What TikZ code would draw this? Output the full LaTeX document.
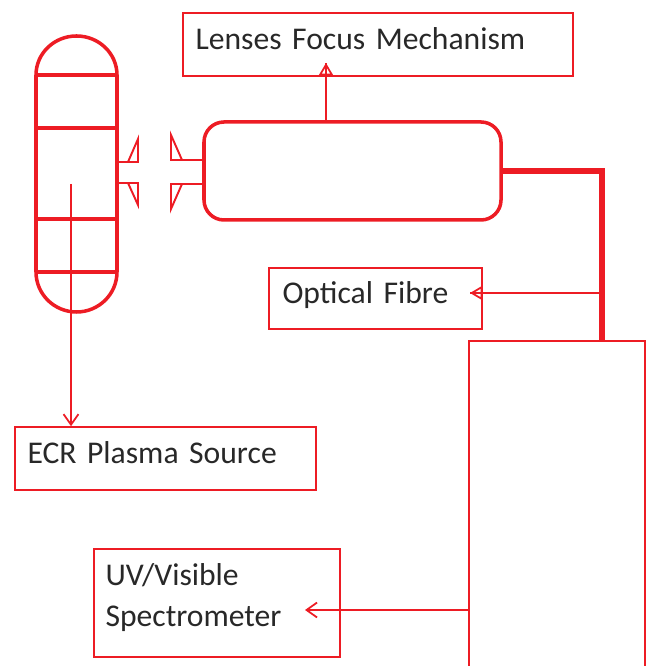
\documentclass[tikz,border=0pt]{standalone}
\usepackage{fontspec}
\setmainfont[WordSpace=0.8]{Carlito}
\usetikzlibrary{arrows.meta}
\definecolor{linered}{RGB}{237,28,36}
\definecolor{labelgrey}{RGB}{40,40,40}
\tikzset{
    labelbox/.style={draw=linered,line width=0.9pt,inner xsep=0.25cm,inner ysep=0pt,align=left,
        text=labelgrey,font=\fontsize{18}{23}\selectfont,text depth=7pt},
    thinline/.style={draw=linered,line width=1pt},
    tiparrow/.style={thinline,-{Triangle[open,length=7pt,width=8pt]}},
    barbarrow/.style={thinline,-{Straight Barb[length=6pt,width=8.5pt]}},
    wall/.style={draw=linered,line width=2pt},
    fibre/.style={draw=linered,line width=3.6pt}
}
\begin{document}
\begin{tikzpicture}
    \clip (0,0) rectangle (12.92,13.32);
    % labelled boxes
    \node[labelbox,text width=7.3cm,minimum height=1.26cm] (lenses) at (7.56,12.43) {Lenses Focus Mechanism};
    \node[labelbox,text width=3.72cm,minimum height=1.22cm,inner xsep=0.27cm] (optical) at (7.51,7.35) {Optical Fibre};
    \node[labelbox,text width=5.52cm,minimum height=1.26cm] (ecr) at (3.31,4.15) {ECR Plasma Source};
    \node[labelbox,text width=4.46cm,minimum height=2.16cm,inner xsep=0.23cm,text depth=32pt] (uv) at (4.34,1.26) {UV/Visible\\Spectrometer};
    \node[draw=linered,line width=1.5pt,minimum width=3.52cm,minimum height=6.6cm] (body) at (11.14,3.2) {};
    \node[draw=linered,line width=2pt,rounded corners=0.4cm,minimum width=5.94cm,minimum height=1.96cm] (focus) at (7.05,9.9) {};
    % plasma source
    \draw[wall] (0.72,11.82) arc (180:0:0.81 and 0.78) -- (2.34,7.88) arc (0:-180:0.81 and 0.8) -- cycle;
    \draw[wall] (0.72,11.82)--(2.34,11.82);
    \draw[wall] (0.72,10.76)--(2.34,10.76);
    \draw[wall] (0.72,8.94)--(2.34,8.94);
    \draw[wall] (0.72,7.88)--(2.34,7.88);
    % flanges
    \coordinate (srcup) at (2.34,10.08);
    \coordinate (srcdown) at (2.34,9.66);
    \coordinate (focusup) at (3.42,10.12);
    \coordinate (focusdown) at (3.42,9.64);
    \draw[wall,line width=1.1pt] (srcup)--(2.76,10.08)--(2.76,10.54)--(2.56,10.08);
    \draw[wall,line width=1.1pt] (srcdown)--(2.76,9.66)--(2.76,9.22)--(2.56,9.66);
    \draw[wall,line width=1.1pt] (focus.west |- focusup)--(focusup)--(3.42,10.62)--(3.64,10.12);
    \draw[wall,line width=1.1pt] (focus.west |- focusdown)--(focusdown)--(3.42,9.14)--(3.64,9.64);
    % fibre run
    \coordinate (corner) at (12.04,9.9);
    \draw[fibre] (focus.east)--(corner)--(corner |- body.north);
    % arrows
    \coordinate (srcin) at (1.42,9.64);
    \coordinate (lensfoot) at (6.52,12.06);
    \coordinate (fibretap) at (12.0,7.46);
    \coordinate (fibretip) at (9.4,7.46);
    \coordinate (uvtap) at (9.38,1.12);
    \coordinate (uvtip) at (6.1,1.12);
    \draw[barbarrow] (srcin)--(srcin |- ecr.north);
    \draw[barbarrow] (uvtap)--(uvtip);
    \draw[tiparrow] (lensfoot |- focus.north)--(lensfoot);
    \draw[thinline] (lensfoot |- focus.north)--(lensfoot);
    \draw[tiparrow] (fibretap)--(fibretip);
    \draw[thinline] (fibretap)--(fibretip);
\end{tikzpicture}
\end{document}
